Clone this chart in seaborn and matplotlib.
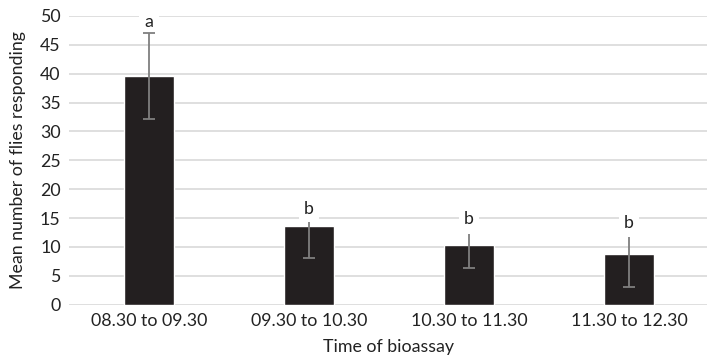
import matplotlib
matplotlib.use("Agg")
import matplotlib.pyplot as plt
import seaborn as sns
import pandas as pd
import numpy as np

categories = ["08.30 to 09.30", "09.30 to 10.30", "10.30 to 11.30", "11.30 to 12.30"]
means = [39.6, 13.6, 10.3, 8.8]
err_low = [32.2, 8.1, 6.3, 3.0]
err_high = [47.0, 14.4, 12.3, 11.8]
letters = ["a", "b", "b", "b"]
letter_y = [48.9, 16.6, 14.8, 14.2]
top_cap = [True, False, False, False]

sns.set_theme(style="white")
plt.rcParams['font.family'] = ['Lato', 'DejaVu Sans']

df = pd.DataFrame({"time": categories, "mean": means})

fig = plt.figure(figsize=(7.07, 3.64), dpi=100)
ax = fig.add_axes([69/707, 1 - 304.7/364, 640/707, (304.7 - 16)/364])

ax.set_ylim(0, 50)
ax.set_yticks(np.arange(0, 51, 5))
for yv in np.arange(0, 51, 5):
    ax.axhline(yv, color="#d9d9d9", lw=1.2, zorder=0)

sns.barplot(data=df, x="time", y="mean", color="#231f20", width=0.31,
            saturation=1, ax=ax, zorder=2, errorbar=None)
ax.set_xlim(-0.5, 3.5)

x = np.arange(len(categories))
ecol = "#7f7f7f"
cw = 0.035
ax.vlines(x, err_low, err_high, color=ecol, lw=1.3, zorder=3)
ax.hlines(err_low, x - cw, x + cw, color=ecol, lw=1.3, zorder=3)
for xi, hv, tc in zip(x, err_high, top_cap):
    if tc:
        ax.hlines(hv, xi - cw, xi + cw, color=ecol, lw=1.3, zorder=3)

for xi, (lab, ly) in enumerate(zip(letters, letter_y)):
    ax.text(xi, ly, lab, ha="center", va="center", fontsize=12.8, color="#222222",
            bbox=dict(facecolor="white", edgecolor="none", boxstyle="square,pad=0.3"),
            zorder=1.5)

for s in ax.spines.values():
    s.set_visible(False)

ax.tick_params(axis="both", length=0, labelsize=12.8, colors="#222222", pad=6)
ax.set_xlabel("Time of bioassay", fontsize=12.8, color="#222222", labelpad=7)
ax.set_ylabel("Mean number of flies responding", fontsize=12.8, color="#222222", labelpad=10)

fig.savefig("out.png", dpi=100)
